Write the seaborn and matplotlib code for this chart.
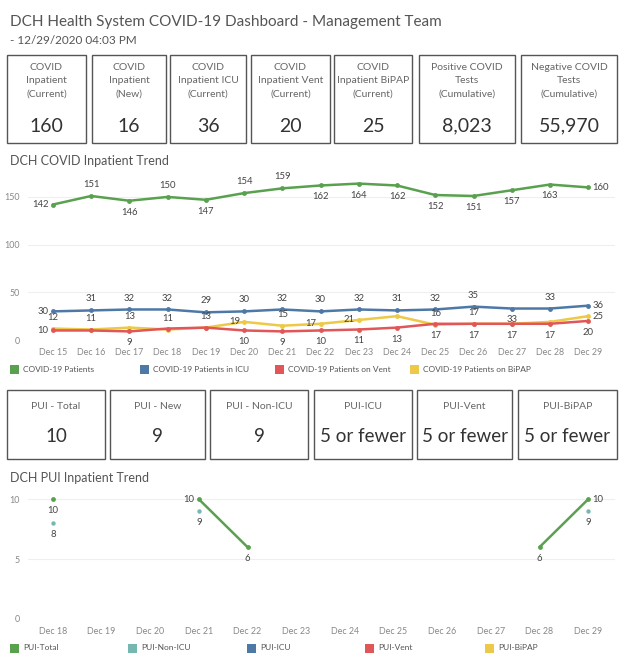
import numpy as np
import pandas as pd
import matplotlib
matplotlib.use("Agg")
import matplotlib.pyplot as plt
import seaborn as sns
from matplotlib.patches import Rectangle

# --- Data ---------------------------------------------------------------------
trend_days = ["Dec 15", "Dec 16", "Dec 17", "Dec 18", "Dec 19", "Dec 20", "Dec 21", "Dec 22",
              "Dec 23", "Dec 24", "Dec 25", "Dec 26", "Dec 27", "Dec 28", "Dec 29"]
patients = [142, 151, 146, 150, 147, 154, 159, 162, 164, 162, 152, 151, 157, 163, 160]
icu = [30, 31, 32, 32, 29, 30, 32, 30, 32, 31, 32, 35, 33, 33, 36]
vent = [10, 10, 9, 12, 13, 10, 9, 10, 11, 13, 17, 17, 17, 17, 20]
bipap = [12, 11, 13, 11, 13, 19, 15, 17, 21, 25, 16, 17, 17, 19, 25]

pui_days = ["Dec 18", "Dec 19", "Dec 20", "Dec 21", "Dec 22", "Dec 23",
            "Dec 24", "Dec 25", "Dec 26", "Dec 27", "Dec 28", "Dec 29"]
nan = np.nan
pui_total = [10, nan, nan, 10, 6, nan, nan, nan, nan, nan, 6, 10]
pui_non_icu = [8, nan, nan, 9, nan, nan, nan, nan, nan, nan, nan, 9]

kpi_labels = ["COVID\nInpatient\n(Current)", "COVID\nInpatient\n(New)", "COVID\nInpatient ICU\n(Current)",
              "COVID\nInpatient Vent\n(Current)", "COVID\nInpatient BiPAP\n(Current)",
              "Positive COVID\nTests\n(Cumulative)", "Negative COVID\nTests\n(Cumulative)"]
kpi_values = ["160", "16", "36", "20", "25", "8,023", "55,970"]

pui_labels = ["PUI - Total", "PUI - New", "PUI - Non-ICU", "PUI-ICU", "PUI-Vent", "PUI-BiPAP"]
pui_values = ["10", "9", "9", "5 or fewer", "5 or fewer", "5 or fewer"]

trend_series = ["COVID-19 Patients", "COVID-19 Patients in ICU",
                "COVID-19 Patients on Vent", "COVID-19 Patients on BiPAP"]
pui_series = ["PUI-Total", "PUI-Non-ICU", "PUI-ICU", "PUI-Vent", "PUI-BiPAP"]

# --- Styles -------------------------------------------------------------------
GREEN, BLUE, RED, YELLOW, TEAL = "#59a14f", "#4e79a7", "#e15759", "#edc948", "#76b7b2"
trend_colors = [GREEN, BLUE, RED, YELLOW]
pui_colors = [GREEN, TEAL, BLUE, RED, YELLOW]

# label placement per point: a=above, b=below, l=left, r=right, ''=none
patients_pos = ["l", "a", "b", "a", "b", "a", "a", "b", "b", "b", "b", "b", "b", "b", "r"]
icu_pos = ["l", "a", "a", "a", "a", "a", "a", "a", "a", "a", "a", "a", "b", "a", "r"]
vent_pos = ["l", "", "b", "", "", "b", "b", "b", "b", "b", "b", "b", "b", "b", "b"]
bipap_pos = ["a", "a", "a", "a", "a", "l", "a", "l", "l", "", "a", "a", "", "", "r"]
pui_total_pos = ["b", "", "", "l", "b", "", "", "", "", "", "b", "r"]
pui_non_pos = ["b", "", "", "b", "", "", "", "", "", "", "", "b"]

sns.set_theme(style="white")
plt.rcParams["font.family"] = ["Lato", "DejaVu Sans"]

W, H = 624, 662
fig = plt.figure(figsize=(W / 100, H / 100), dpi=100)


def px(x, y):
    return x / W, 1 - y / H


def box(x0, y0, x1, y1, label, value, vsize, label_y, value_y):
    fig.patches.append(Rectangle(px(x0, y1), (x1 - x0) / W, (y1 - y0) / H,
                                 transform=fig.transFigure, fill=False,
                                 edgecolor="#555555", linewidth=1))
    cx = (x0 + x1) / 2
    fig.text(*px(cx, label_y), label, ha="center", va="top", fontsize=7.5,
             color="#666666", linespacing=1.6)
    fig.text(*px(cx, value_y), value, ha="center", va="center", fontsize=vsize, color="#333333")


def legend(items, colors, xs, y):
    for name, c, x in zip(items, colors, xs):
        fig.patches.append(Rectangle(px(x, y + 5), 9 / W, 9 / H, transform=fig.transFigure,
                                     facecolor=c, edgecolor="none"))
        fig.text(*px(x + 13, y), name, ha="left", va="center", fontsize=6, color="#555555")


def annotate(ax, xs, ys, pos, color="#444444"):
    offs = {"a": (0, 5, "center", "bottom"), "b": (0, -5, "center", "top"),
            "l": (-3, 0, "right", "center"), "r": (3, 0, "left", "center")}
    for x, y, p in zip(xs, ys, pos):
        if not p or pd.isna(y):
            continue
        dx, dy, ha, va = offs[p]
        ax.annotate(f"{int(y)}", (x, y), xytext=(dx, dy), textcoords="offset points",
                    ha=ha, va=va, fontsize=6.8, color=color)


def style_axes(ax, labels):
    ax.set_xticks(range(len(labels)))
    ax.set_xticklabels(labels)
    ax.tick_params(axis="both", length=0, labelsize=6.4, labelcolor="#888888", pad=6)
    for s in ax.spines.values():
        s.set_visible(False)
    ax.grid(axis="y", color="#efefef", linewidth=0.8)
    ax.set_xlabel("")
    ax.set_ylabel("")


# --- Header -------------------------------------------------------------------
fig.text(*px(10, 22), "DCH Health System COVID-19 Dashboard - Management Team",
         fontsize=11, color="#555555", va="center")
fig.text(*px(10, 41), "- 12/29/2020 04:03 PM", fontsize=8.5, color="#555555", va="center")

kpi_x = [(7, 86), (92, 166), (170, 246), (251, 330), (334, 412), (419, 515), (521, 617)]
for (x0, x1), lab, val in zip(kpi_x, kpi_labels, kpi_values):
    box(x0, 55, x1, 143, lab, val, 14, 63, 126)

# --- COVID inpatient trend ------------------------------------------------------
fig.text(*px(10, 161), "DCH COVID Inpatient Trend", fontsize=9, color="#555555", va="center")
ax1 = fig.add_axes([28 / W, 1 - 340 / H, 587 / W, 165 / H])
trend = pd.DataFrame({"day": np.arange(len(trend_days)), trend_series[0]: patients,
                      trend_series[1]: icu, trend_series[2]: vent, trend_series[3]: bipap})
long = trend.melt(id_vars="day", var_name="series", value_name="value")
order = trend_series[::-1]
sns.lineplot(data=long, x="day", y="value", hue="series", hue_order=order,
             palette=dict(zip(trend_series, trend_colors)), marker="o", markersize=3.5,
             markeredgewidth=0, linewidth=1.8, legend=False, ax=ax1)
style_axes(ax1, trend_days)
ax1.set_yticks([0, 50, 100, 150])
ax1.set_xlim(-0.65, len(trend_days) - 0.3)
ax1.set_ylim(0, 173)
for vals, pos in [(patients, patients_pos), (icu, icu_pos), (vent, vent_pos), (bipap, bipap_pos)]:
    annotate(ax1, trend["day"], vals, pos)
legend(trend_series, trend_colors, [10, 140, 275, 410], 369)

# --- PUI boxes ------------------------------------------------------------------
pui_x = [(7, 105), (110, 205), (210, 308), (314, 412), (417, 512), (518, 617)]
for (x0, x1), lab, val in zip(pui_x, pui_labels, pui_values):
    box(x0, 390, x1, 459, lab, val, 13.5, 402, 437)

# --- PUI inpatient trend --------------------------------------------------------
fig.text(*px(10, 478), "DCH PUI Inpatient Trend", fontsize=9, color="#555555", va="center")
ax2 = fig.add_axes([28 / W, 1 - 619 / H, 587 / W, 130 / H])
pui = pd.DataFrame({"day": np.arange(len(pui_days)), "total": pui_total, "non_icu": pui_non_icu})
pui["seg"] = pui["total"].isna().cumsum()
seg = pui.dropna(subset=["total"])
sns.lineplot(data=seg, x="day", y="total", units="seg", estimator=None, color=GREEN,
             linewidth=1.8, ax=ax2)
sns.scatterplot(data=pui, x="day", y="total", color=GREEN, s=12, linewidth=0, ax=ax2)
sns.scatterplot(data=pui, x="day", y="non_icu", color=TEAL, s=10, linewidth=0, ax=ax2)
style_axes(ax2, pui_days)
ax2.set_yticks([0, 5, 10])
ax2.set_xlim(-0.51, len(pui_days) - 0.45)
ax2.set_ylim(0, 10.85)
annotate(ax2, pui["day"], pui_total, pui_total_pos)
annotate(ax2, pui["day"], pui_non_icu, pui_non_pos)
legend(pui_series, pui_colors, [10, 128, 247, 365, 485], 648)

fig.savefig("out.png", dpi=100)
